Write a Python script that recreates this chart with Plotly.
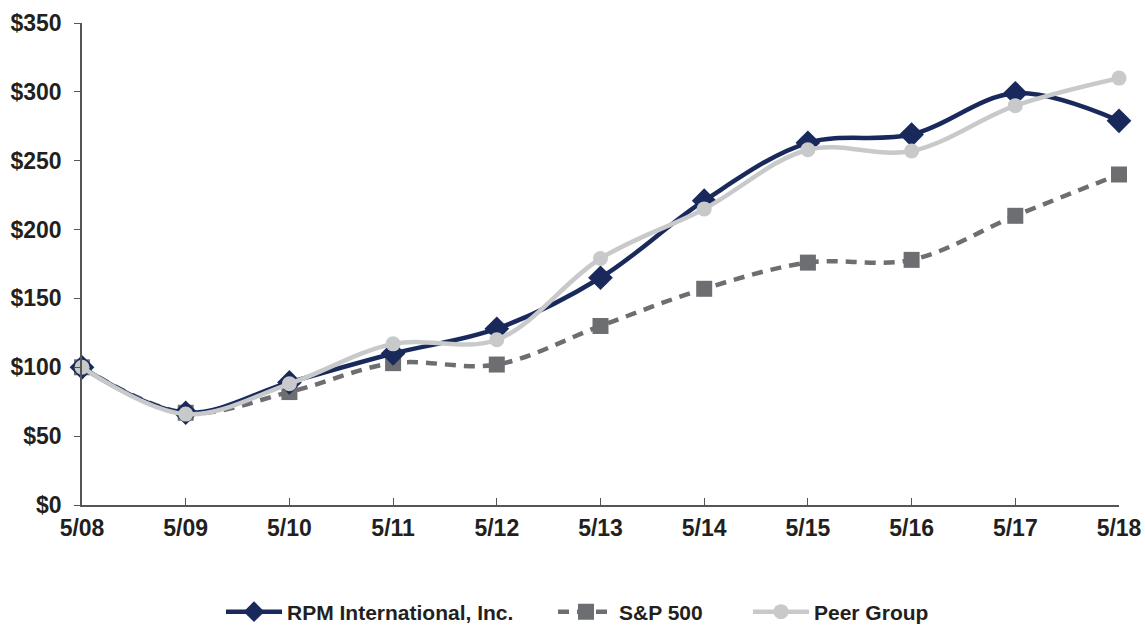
import plotly.graph_objects as go

periods = ["5/08", "5/09", "5/10", "5/11", "5/12", "5/13", "5/14", "5/15", "5/16", "5/17", "5/18"]
rpm = [100, 67, 89, 110, 128, 165, 221, 263, 269, 299, 279]
sp500 = [100, 67, 82, 103, 102, 130, 157, 176, 178, 210, 240]
peer = [100, 66, 88, 117, 120, 179, 215, 258, 257, 290, 310]
y_ticks = [0, 50, 100, 150, 200, 250, 300, 350]
y_labels = ["$0", "$50", "$100", "$150", "$200", "$250", "$300", "$350"]

xs = list(range(len(periods)))
font_family = "Liberation Sans, Arial, Helvetica, sans-serif"
ML, MR, MT, MB = 82, 26, 23, 121
W, H = 1145, 626
PW = W - ML - MR
PH = H - MT - MB


def px_x(p):
    return (p - ML) / PW


def px_y(p):
    return (H - MB - p) / PH


fig = go.Figure()
fig.add_trace(go.Scatter(
    x=xs, y=sp500, name="<b>S&P 500</b>", mode="lines+markers",
    line=dict(color="#6d6e71", width=4.5, dash="11px,8px", shape="spline"),
    marker=dict(symbol="square", size=16, color="#6d6e71"),
    cliponaxis=False, legend="legend2"))
fig.add_trace(go.Scatter(
    x=xs, y=rpm, name="<b>RPM International, Inc.</b>", mode="lines+markers",
    line=dict(color="#19295b", width=4.5, shape="spline"),
    marker=dict(symbol="diamond", size=19, color="#19295b"),
    cliponaxis=False, legend="legend"))
fig.add_trace(go.Scatter(
    x=xs, y=peer, name="<b>Peer Group</b>", mode="lines+markers",
    line=dict(color="#c8c9cb", width=4.5, shape="spline"),
    marker=dict(symbol="circle", size=15, color="#c8c9cb"),
    cliponaxis=False, legend="legend3"))

leg_common = dict(orientation="h", xanchor="left", yanchor="middle", y=px_y(612),
                  itemwidth=56, font=dict(size=21, family=font_family, color="#231f20"),
                  itemclick=False, itemdoubleclick=False, bgcolor="rgba(0,0,0,0)")

fig.update_layout(
    width=W, height=H,
    margin=dict(l=ML, r=MR, t=MT, b=MB, autoexpand=False),
    paper_bgcolor="white", plot_bgcolor="white",
    font=dict(family=font_family, color="#231f20", size=23),
    showlegend=True,
    legend=dict(x=px_x(221), **leg_common),
    legend2=dict(x=px_x(553), **leg_common),
    legend3=dict(x=px_x(748), **leg_common),
    xaxis=dict(range=[0, 10], tickmode="array", tickvals=xs, ticktext=[f"<b>{p}</b>" for p in periods],
               showgrid=False, zeroline=False, showline=True, linecolor="#555555", linewidth=1.5,
               ticks="inside", ticklen=7, tickcolor="#555555", tickfont=dict(size=23),
               ticklabelstandoff=2, fixedrange=True, automargin=False),
    yaxis=dict(range=[0, 350], tickmode="array", tickvals=y_ticks, ticktext=[f"<b>{t}</b>" for t in y_labels],
               showgrid=False, zeroline=False, showline=True, linecolor="#555555", linewidth=1.5,
               ticks="outside", ticklen=6, tickcolor="#555555", tickfont=dict(size=23),
               ticklabelstandoff=8, fixedrange=True, automargin=False),
)

fig.write_html("out.html")
